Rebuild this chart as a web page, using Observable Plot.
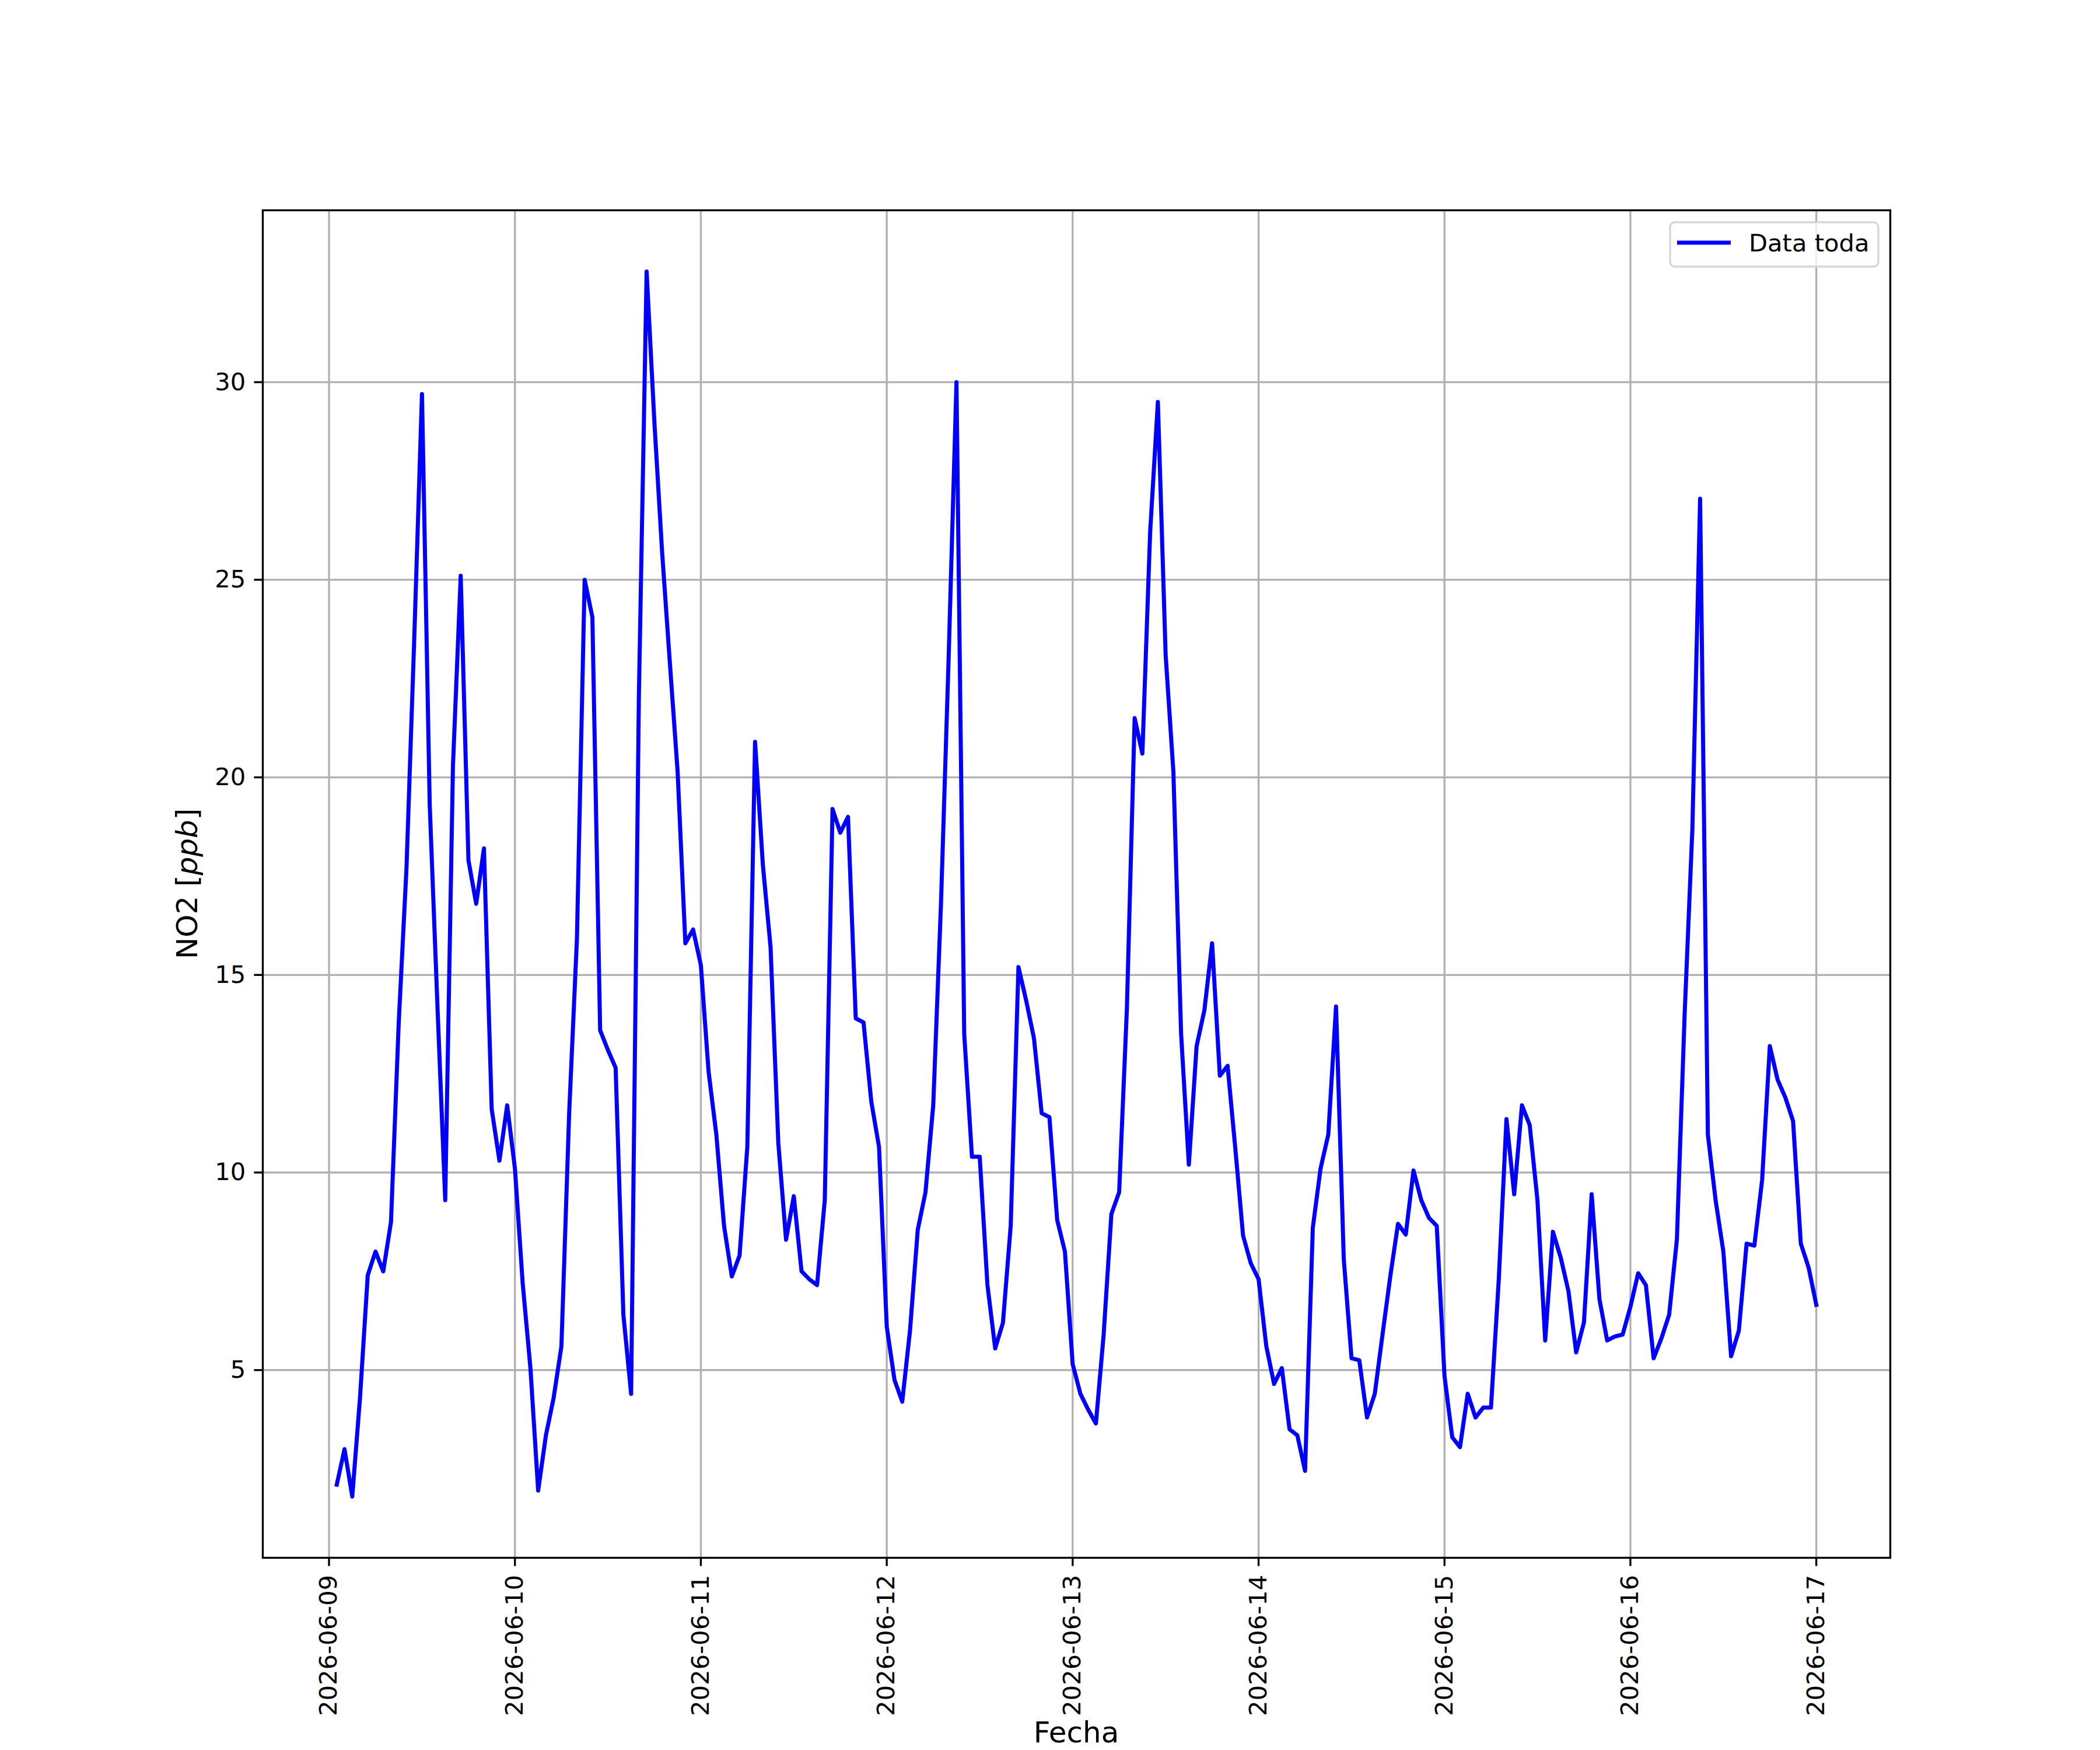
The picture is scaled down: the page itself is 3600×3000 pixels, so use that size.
<!DOCTYPE html>
<html>
<head>
<meta charset="utf-8">
<script src="https://cdn.jsdelivr.net/npm/d3@7"></script>
<script src="https://cdn.jsdelivr.net/npm/@observablehq/plot@0.6"></script>
<style>
  html, body { margin: 0; padding: 0; background: #ffffff; }
  #chart { width: 3600px; height: 3000px; position: relative; background: #ffffff; }
</style>
</head>
<body>
<div id="chart"></div>
<script>
// ---- Data (hourly NO2, ppb) ----
const startTime = "2026-06-09T01:00:00Z";   // first sample
const stepHours = 1;                        // hourly samples
const no2Day09 = [2.1, 3.0, 1.8, 4.3, 7.4, 8.0, 7.5, 8.75, 13.8, 17.7, 23.5, 29.7, 19.3, 14.2, 9.3, 20.3, 25.1, 17.9, 16.8, 18.2, 11.6, 10.3, 11.7, 10.1];
const no2Day10 = [7.2, 5.05, 1.95, 3.35, 4.3, 5.6, 11.5, 15.9, 25.0, 24.05, 13.6, 13.1, 12.65, 6.4, 4.4, 22.05, 32.8, 29.0, 25.7, 22.9, 20.15, 15.8, 16.15, 15.25];
const no2Day11 = [12.55, 10.96, 8.64, 7.37, 7.9, 10.65, 20.9, 17.8, 15.7, 10.75, 8.3, 9.4, 7.5, 7.3, 7.15, 9.3, 19.2, 18.6, 19.0, 13.9, 13.8, 11.8, 10.65, 6.1];
const no2Day12 = [4.75, 4.2, 6.0, 8.55, 9.5, 11.7, 16.8, 23.1, 30.0, 13.5, 10.4, 10.4, 7.15, 5.55, 6.2, 8.65, 15.2, 14.35, 13.4, 11.5, 11.4, 8.8, 8.0, 5.15];
const no2Day13 = [4.4, 4.0, 3.65, 5.9, 8.95, 9.5, 14.15, 21.5, 20.6, 26.2, 29.5, 23.1, 20.15, 13.5, 10.2, 13.2, 14.1, 15.8, 12.45, 12.7, 10.6, 8.4, 7.7, 7.3];
const no2Day14 = [5.6, 4.65, 5.05, 3.5, 3.35, 2.45, 8.6, 10.1, 10.96, 14.2, 7.8, 5.3, 5.25, 3.8, 4.4, 5.9, 7.37, 8.7, 8.43, 10.05, 9.3, 8.85, 8.65, 4.85];
const no2Day15 = [3.3, 3.05, 4.4, 3.8, 4.05, 4.05, 7.27, 11.35, 9.45, 11.7, 11.2, 9.3, 5.75, 8.5, 7.85, 7.0, 5.45, 6.2, 9.45, 6.8, 5.75, 5.85, 5.9, 6.6];
const no2Day16 = [7.45, 7.15, 5.3, 5.8, 6.4, 8.3, 14.0, 18.7, 27.05, 10.96, 9.3, 8.0, 5.35, 6.0, 8.2, 8.15, 9.8, 13.2, 12.35, 11.9, 11.3, 8.2, 7.6, 6.65];

const xTickDates = ["2026-06-09", "2026-06-10", "2026-06-11", "2026-06-12", "2026-06-13", "2026-06-14", "2026-06-15", "2026-06-16", "2026-06-17"];
const yTicks = [5, 10, 15, 20, 25, 30];
const seriesName = "Data toda";
const xLabel = "Fecha";

// ---- Build table ----
const values = [].concat(no2Day09, no2Day10, no2Day11, no2Day12, no2Day13, no2Day14, no2Day15, no2Day16);
const t0 = new Date(startTime);
const data = values.map((v, i) => ({ t: new Date(t0.getTime() + i * stepHours * 3600e3), v }));

// matplotlib-style 5% margins
const [tMin, tMax] = d3.extent(data, d => d.t);
const tPad = (tMax - tMin) * 0.05;
const [vMin, vMax] = d3.extent(data, d => d.v);
const vPad = (vMax - vMin) * 0.05;

const xTicks = xTickDates.map(s => new Date(s + "T00:00:00Z"));
const fmt = d3.utcFormat("%Y-%m-%d");

const PT = 300 / 72;           // px per point at 300 dpi
const fs = 10 * PT;            // tick font size
const lw = 0.8 * PT;           // spine / grid width
const dataLw = 7;              // data line width

const chart = Plot.plot({
  width: 3600,
  height: 3000,
  marginLeft: 450,
  marginRight: 360,
  marginTop: 360,
  marginBottom: 330,
  style: { fontFamily: "DejaVu Sans", fontSize: fs + "px", background: "#ffffff", color: "#000000", overflow: "visible" },
  x: { type: "utc", domain: [new Date(tMin - tPad), new Date(+tMax + tPad)] },
  y: { domain: [vMin - vPad, vMax + vPad] },
  marks: [
    Plot.gridX(xTicks, { stroke: "#b0b0b0", strokeOpacity: 1, strokeWidth: lw }),
    Plot.gridY(yTicks, { stroke: "#b0b0b0", strokeOpacity: 1, strokeWidth: lw }),
    Plot.lineY(data, { x: "t", y: "v", stroke: "#0000ff", strokeWidth: dataLw, strokeLinejoin: "round", strokeLinecap: "square" }),
    Plot.frame({ stroke: "#000000", strokeWidth: lw }),
    Plot.axisX(xTicks, { tickFormat: fmt, tickRotate: -90, tickSize: 3.5 * PT, tickPadding: 3.5 * PT, fontSize: fs, strokeWidth: lw, label: null }),
    Plot.axisY(yTicks, { tickFormat: d3.format("d"), tickSize: 3.5 * PT, tickPadding: 3.5 * PT, fontSize: fs, strokeWidth: lw, label: null })
  ]
});

document.getElementById("chart").appendChild(chart);

// ---- Axis labels and legend (annotations) ----
const svg = d3.select(chart);
const lfs = 12 * PT;

svg.append("text")
  .attr("x", 1845).attr("y", 2987)
  .attr("text-anchor", "middle")
  .attr("font-family", "DejaVu Sans").attr("font-size", lfs).attr("fill", "#000")
  .text(xLabel);

const yl = svg.append("text")
  .attr("transform", "translate(338,1515) rotate(-90)")
  .attr("text-anchor", "middle")
  .attr("font-family", "DejaVu Sans").attr("font-size", lfs).attr("fill", "#000");
yl.append("tspan").text("NO2 [");
yl.append("tspan").attr("font-style", "italic").text("ppb");
yl.append("tspan").text("]");

const lg = svg.append("g");
lg.append("rect")
  .attr("x", 2863).attr("y", 381).attr("width", 357).attr("height", 76)
  .attr("rx", 8).attr("ry", 8)
  .attr("fill", "rgba(255,255,255,0.8)")
  .attr("stroke", "#d6d6d6").attr("stroke-width", lw);
lg.append("line")
  .attr("x1", 2875).attr("x2", 2967).attr("y1", 416).attr("y2", 416)
  .attr("stroke", "#0000ff").attr("stroke-width", dataLw);
lg.append("text")
  .attr("x", 2998).attr("y", 431)
  .attr("text-anchor", "start")
  .attr("font-family", "DejaVu Sans").attr("font-size", fs).attr("fill", "#000")
  .text(seriesName);
</script>
</body>
</html>
